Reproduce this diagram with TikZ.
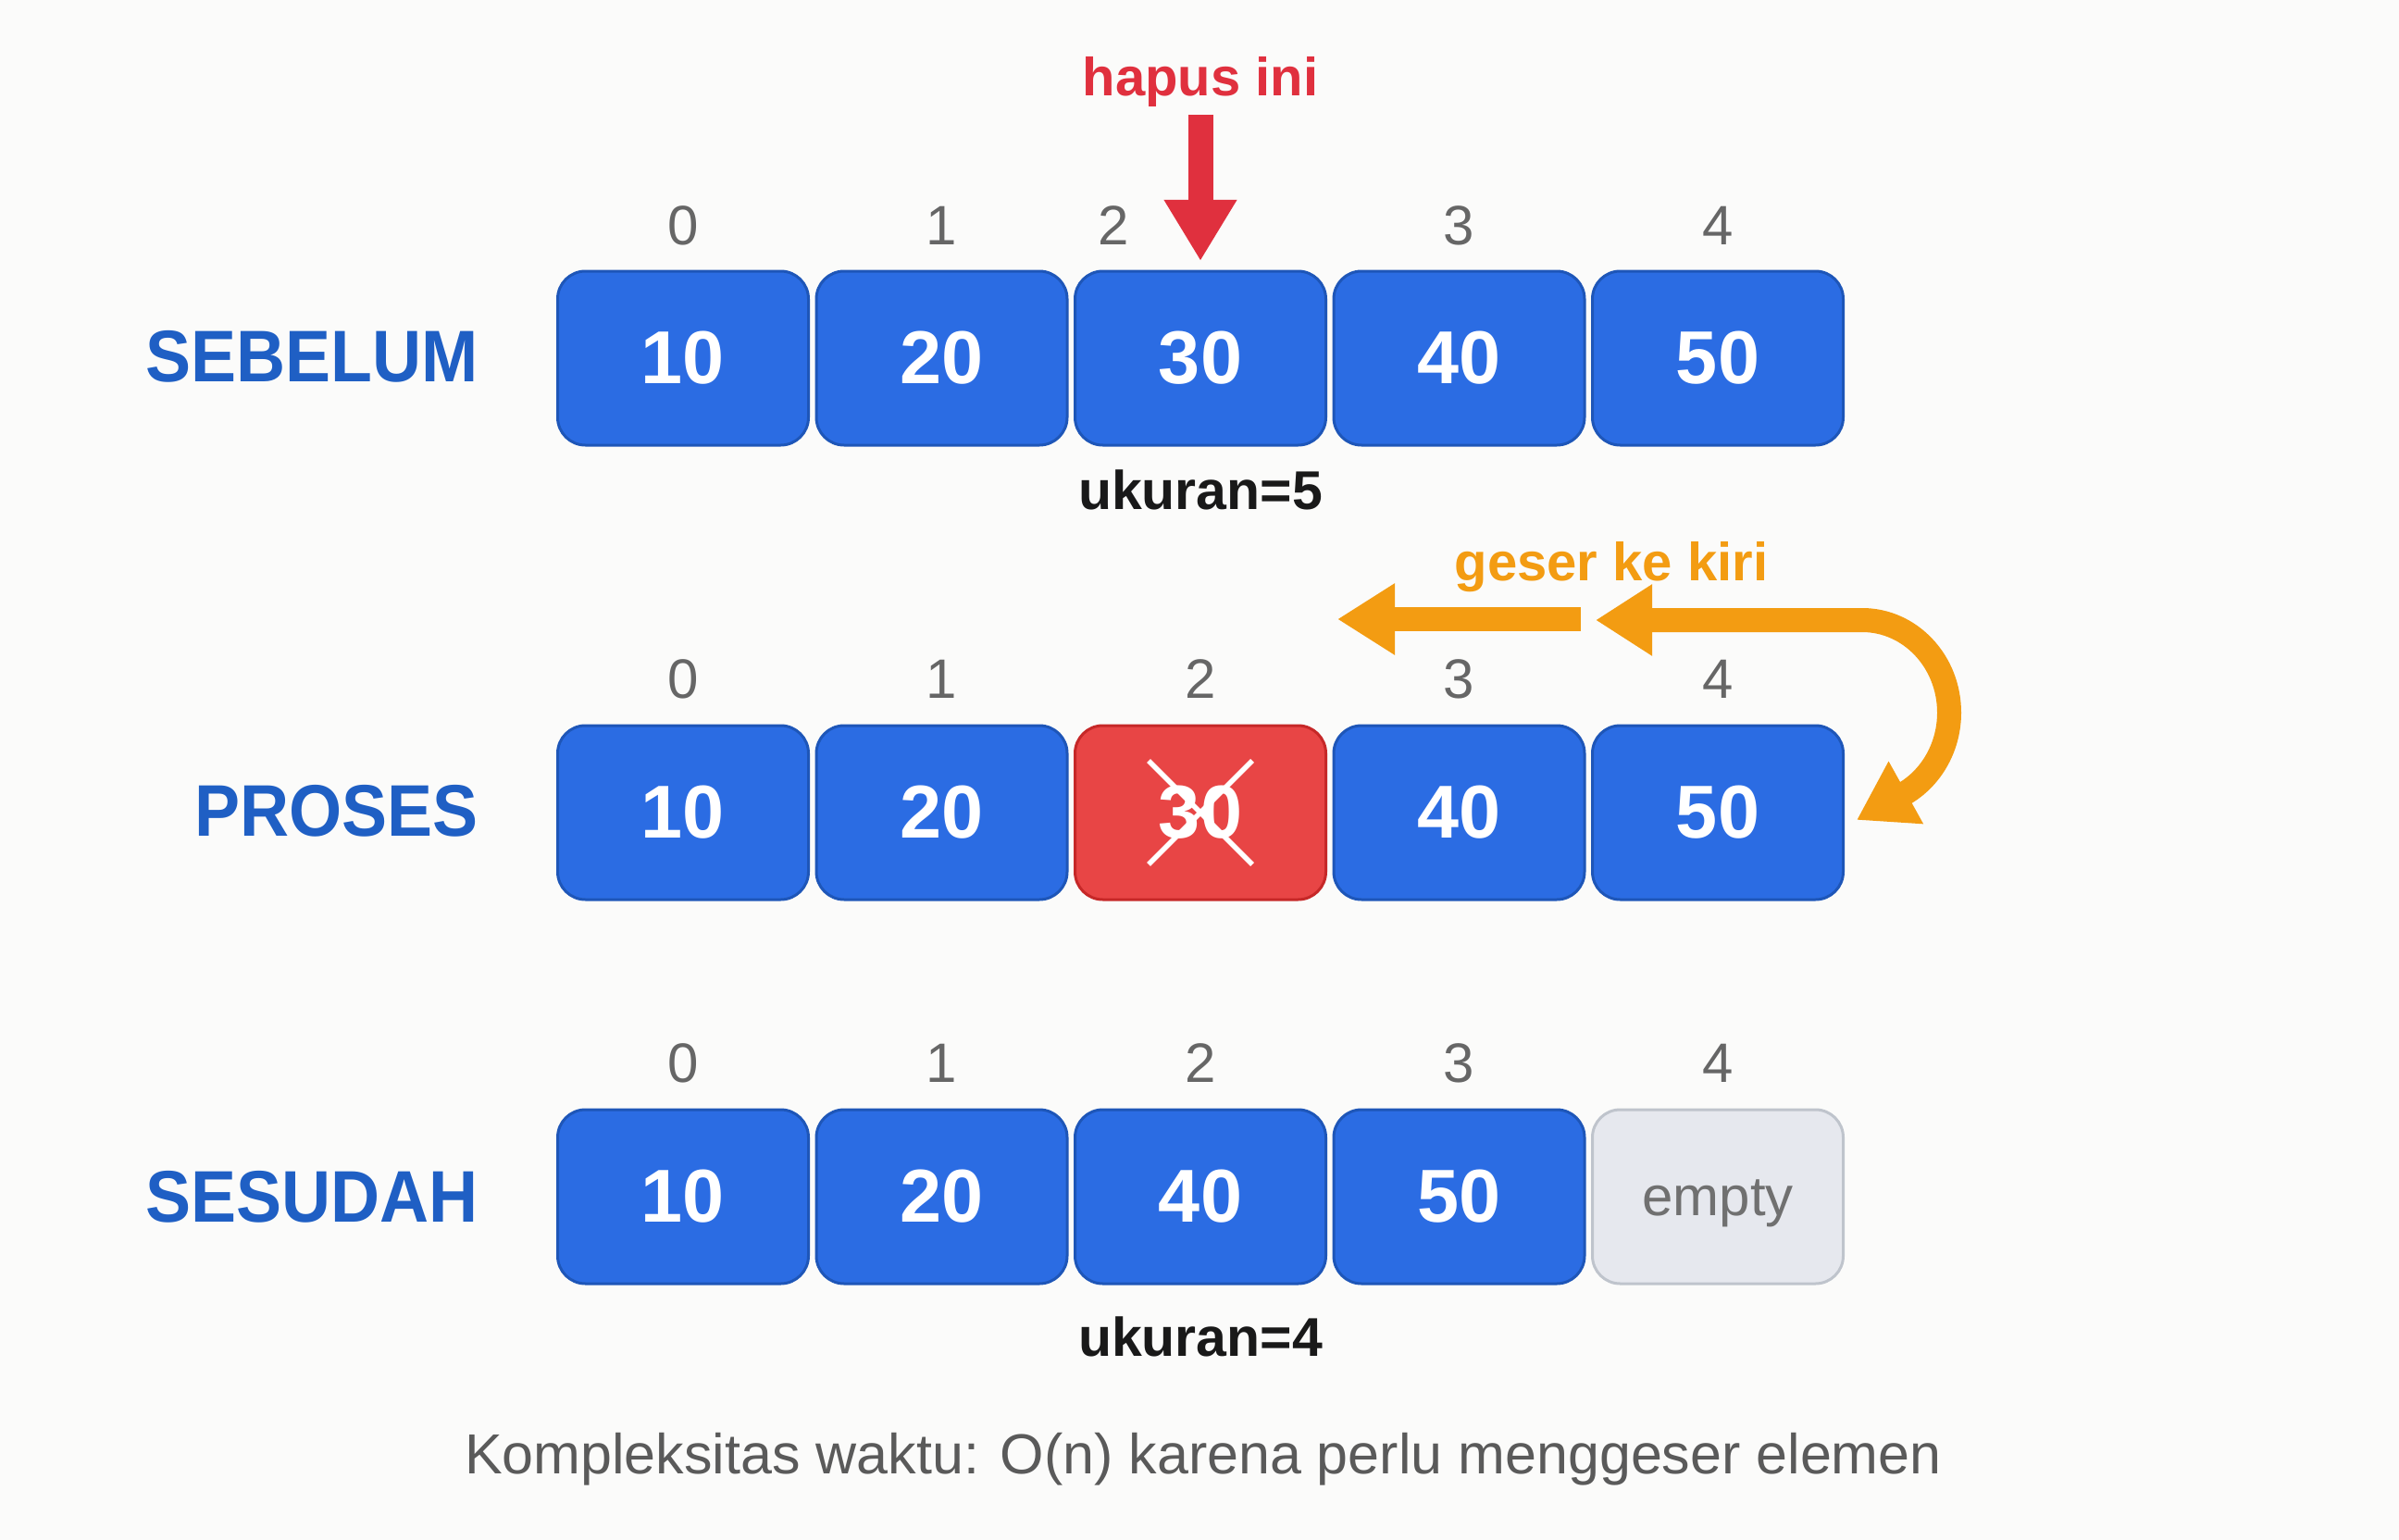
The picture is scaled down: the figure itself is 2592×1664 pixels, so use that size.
\documentclass[tikz,border=0pt]{standalone}
\usepackage{fontspec}
\setmainfont{Liberation Sans}
\newfontfamily\condsans[FakeStretch=0.93]{Liberation Sans}
\usetikzlibrary{arrows.meta}
\definecolor{bg}{HTML}{FBFBFA}
\definecolor{boxfill}{HTML}{2B6CE3}
\definecolor{boxborder}{HTML}{1E56B8}
\definecolor{lblblue}{HTML}{1F5FC4}
\definecolor{redfill}{HTML}{E84545}
\definecolor{redborder}{HTML}{C62828}
\definecolor{redmark}{HTML}{E0303E}
\definecolor{orangec}{HTML}{F39C12}
\definecolor{idxgray}{HTML}{666666}
\definecolor{emptyfill}{HTML}{E6E8EE}
\definecolor{emptyborder}{HTML}{BFC4CC}
\definecolor{emptytext}{HTML}{707070}
\definecolor{notegray}{HTML}{5A5A5A}
\tikzset{
  cell/.style={draw=boxborder, fill=boxfill, line width=3pt, rounded corners=30pt,
    minimum width=271pt, minimum height=188pt, inner sep=0pt, text=white,
    font=\fontsize{81}{92}\selectfont\bfseries},
  delcell/.style={cell, draw=redborder, fill=redfill},
  emptycell/.style={cell, draw=emptyborder, fill=emptyfill, text=emptytext,
    text height=40pt, text depth=0pt, font=\fontsize{60}{70}\selectfont},
  idx/.style={text=idxgray, inner sep=0pt, font=\fontsize{60}{70}\selectfont},
  rowlbl/.style={text=lblblue, anchor=east, inner sep=0pt, font=\condsans\fontsize{79}{92}\selectfont\bfseries},
  sizelbl/.style={text=black!90, inner sep=0pt, anchor=base, font=\fontsize{59}{70}\selectfont\bfseries},
  shiftarrow/.style={draw=orangec, line width=26pt, {Triangle[width=73pt,length=61pt]}-{Triangle[width=73pt,length=61pt]}},
  leftarrow/.style={draw=orangec, line width=26pt, -{Triangle[width=73pt,length=62pt]}},
  delarrow/.style={draw=redmark, line width=27pt, -{Triangle[width=74pt,length=66pt]}},
  cross/.style={draw=white, line width=5.5pt}
}
\begin{document}
\begin{tikzpicture}[x=1pt,y=-1pt]
\fill[bg] (0,0) rectangle (2592,1664);
\useasboundingbox (0,0) rectangle (2592,1664);

% ---------- SEBELUM ----------
\node[rowlbl] (l1) at (517,385) {SEBELUM};
\node[cell] (a0) at (738,387) {10};
\node[cell] (a1) at (1017.5,387) {20};
\node[cell] (a2) at (1297,387) {30};
\node[cell] (a3) at (1576.5,387) {40};
\node[cell] (a4) at (1856,387) {50};
\node[idx] (ia0) at (738,244) {0};
\node[idx] (ia1) at (1017.5,244) {1};
\node[idx] (ia2) at (1203,244) {2};
\node[idx] (ia3) at (1576.5,244) {3};
\node[idx] (ia4) at (1856,244) {4};
\node[text=redmark, inner sep=0pt, anchor=base, font=\fontsize{58}{70}\selectfont\bfseries] (hap) at (1297,104) {hapus ini};
\coordinate (dstart) at (1297,124);
\coordinate (dend) at (1297,282);
\draw[delarrow] (dstart) -- (dend);
\node[sizelbl] (s1) at (1297,550) {ukuran=5};

% ---------- PROSES ----------
\node[rowlbl] (l2) at (517,876) {PROSES};
\node[cell] (b0) at (738,878) {10};
\node[cell] (b1) at (1017.5,878) {20};
\node[delcell] (b2) at (1297,878) {30};
\node[cell] (b3) at (1576.5,878) {40};
\node[cell] (b4) at (1856,878) {50};
\node[idx] (ib0) at (738,734) {0};
\node[idx] (ib1) at (1017.5,734) {1};
\node[idx] (ib2) at (1297,734) {2};
\node[idx] (ib3) at (1576.5,734) {3};
\node[idx] (ib4) at (1856,734) {4};
\draw[cross] ([shift={(-56,-56)}]b2.center) -- ([shift={(56,56)}]b2.center);
\draw[cross] ([shift={(56,-56)}]b2.center) -- ([shift={(-56,56)}]b2.center);
\node[text=orangec, inner sep=0pt, anchor=base, font=\fontsize{58}{70}\selectfont\bfseries] (geser) at (1741,627) {geser ke kiri};
\coordinate (m1s) at (1708,669);
\coordinate (m1e) at (1445,669);
\draw[leftarrow] (m1s) -- (m1e);
\coordinate (m2a) at (1724,670);
\coordinate (m2b) at (2012,670);
\coordinate (m2c) at (2006,886);
\draw[shiftarrow] (m2a) -- (m2b) arc[start angle=-90, end angle=60, x radius=94, y radius=100] -- (m2c);

% ---------- SESUDAH ----------
\node[rowlbl] (l3) at (517,1293) {SESUDAH};
\node[cell] (c0) at (738,1293) {10};
\node[cell] (c1) at (1017.5,1293) {20};
\node[cell] (c2) at (1297,1293) {40};
\node[cell] (c3) at (1576.5,1293) {50};
\node[emptycell] (c4) at (1856,1293) {empty};
\node[idx] (ic0) at (738,1149) {0};
\node[idx] (ic1) at (1017.5,1149) {1};
\node[idx] (ic2) at (1297,1149) {2};
\node[idx] (ic3) at (1576.5,1149) {3};
\node[idx] (ic4) at (1856,1149) {4};
\node[sizelbl] (s2) at (1297,1465) {ukuran=4};

\node[text=notegray, inner sep=0pt, anchor=base, font=\fontsize{61}{72}\selectfont] (note) at (1300,1592) {Kompleksitas waktu: O(n) karena perlu menggeser elemen};
\end{tikzpicture}
\end{document}
